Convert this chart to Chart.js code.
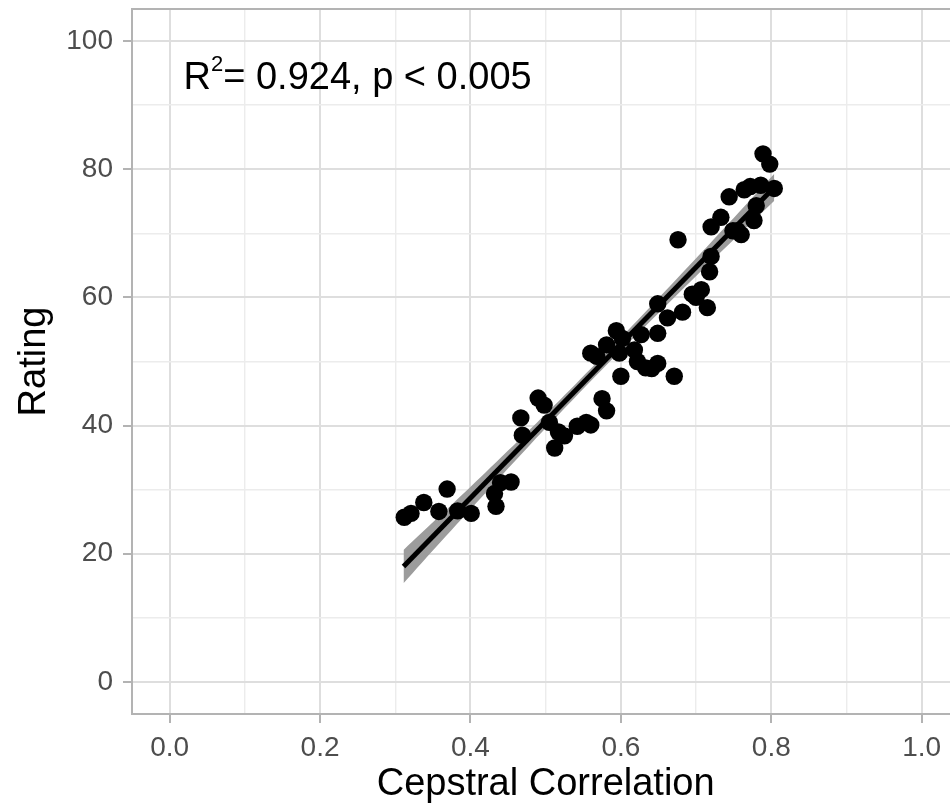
<!DOCTYPE html>
<html>
<head>
<meta charset="utf-8">
<script src="https://cdn.jsdelivr.net/npm/chart.js@4/dist/chart.umd.min.js"></script>
<style>
html,body{margin:0;padding:0;background:#fff;overflow:hidden}
#wrap{width:968px;height:807px}
#c{display:block}
</style>
</head>
<body>
<div id="wrap"><canvas id="c" width="968" height="807"></canvas></div>
<script>
// ---- data ----
const cepstral = [0.312,0.321,0.338,0.358,0.369,0.383,0.401,0.434,0.432,0.440,0.454,0.467,0.469,0.490,0.498,0.505,0.512,0.517,0.525,0.542,0.554,0.560,0.575,0.581,0.560,0.568,0.581,0.594,0.598,0.600,0.602,0.618,0.622,0.627,0.633,0.641,0.649,0.649,0.649,0.662,0.671,0.676,0.682,0.695,0.700,0.707,0.715,0.718,0.720,0.720,0.733,0.744,0.749,0.760,0.764,0.772,0.777,0.780,0.786,0.789,0.798,0.804,0.755];
const rating   = [25.7,26.3,28.0,26.6,30.1,26.7,26.3,27.4,29.4,31.1,31.2,41.2,38.5,44.3,43.2,40.5,36.5,39.0,38.4,39.9,40.5,40.1,44.2,42.3,51.3,50.8,52.6,54.8,51.3,47.7,53.6,51.8,50.0,54.2,49.0,48.9,49.7,54.4,59.0,56.8,47.7,69.0,57.7,60.5,60.0,61.2,58.4,64.0,66.4,71.0,72.5,75.7,70.4,69.8,76.8,77.3,72.0,74.3,77.5,82.4,80.8,77.0,70.4];
const fitX = [0.311, 0.804];
const fitY = [18.0, 77.2];
const bandX     = [0.311,0.36,0.42,0.48,0.54,0.60,0.66,0.72,0.78,0.804];
const bandUpper = [20.6,26.0,32.7,39.5,46.5,53.7,61.1,68.6,76.2,79.3];
const bandLower = [15.4,21.8,29.5,37.1,44.5,51.7,58.7,65.6,72.4,75.1];
const xMajor = [0, 0.2, 0.4, 0.6, 0.8, 1.0];
const xMinor = [0.1, 0.3, 0.5, 0.7, 0.9];
const yMajor = [0, 20, 40, 60, 80, 100];
const yMinor = [10, 30, 50, 70, 90];
const xTitle = 'Cepstral Correlation';
const yTitle = 'Rating';
const annotation = {main: 'R', sup: '2', rest: '= 0.924, p < 0.005', x: 0.0185, y: 92.5};

const FONT = "'Liberation Sans', Arial, sans-serif";
const MAJOR_GRID = '#dedede', MINOR_GRID = '#ececec', BORDER = '#b3b3b3';

const pts = cepstral.map((x, i) => ({x, y: rating[i]}));
const fit = fitX.map((x, i) => ({x, y: fitY[i]}));
const upper = bandX.map((x, i) => ({x, y: bandUpper[i]}));
const lower = bandX.map((x, i) => ({x, y: bandLower[i]}));

const panelPlugin = {
  id: 'panel',
  afterDatasetsDraw(chart) {
    const {ctx, chartArea: a} = chart;
    ctx.save();
    ctx.strokeStyle = BORDER;
    ctx.lineWidth = 2;
    ctx.strokeRect(a.left, a.top, a.right - a.left, a.bottom - a.top);
    ctx.restore();
  },
  afterDraw(chart) {
    const {ctx, scales} = chart;
    const px = scales.x.getPixelForValue(annotation.x);
    const py = scales.y.getPixelForValue(annotation.y);
    ctx.save();
    ctx.fillStyle = '#000';
    ctx.textBaseline = 'alphabetic';
    ctx.textAlign = 'left';
    ctx.font = '38px ' + FONT;
    ctx.fillText(annotation.main, px, py);
    let w = ctx.measureText(annotation.main).width;
    ctx.font = '22px ' + FONT;
    ctx.fillText(annotation.sup, px + w, py - 18);
    w += ctx.measureText(annotation.sup).width;
    ctx.font = '38px ' + FONT;
    ctx.fillText(annotation.rest, px + w, py);
    ctx.restore();
  }
};

const gridCfg = (major) => ({
  color: c => major.includes(c.tick && c.tick.value) ? MAJOR_GRID : MINOR_GRID,
  lineWidth: c => major.includes(c.tick && c.tick.value) ? 2 : 1.4,
  tickColor: c => major.includes(c.tick && c.tick.value) ? BORDER : 'rgba(0,0,0,0)',
  tickWidth: 2,
  tickLength: 9,
  drawTicks: true
});

const noPad = s => { s.paddingTop = 0; s.paddingBottom = 0; s.paddingLeft = 0; s.paddingRight = 0; };

new Chart(document.getElementById('c'), {
  type: 'scatter',
  data: {
    datasets: [
      {type: 'scatter', data: pts, pointRadius: 8.7, pointHoverRadius: 8.7, backgroundColor: '#000', borderWidth: 0},
      {type: 'line', data: fit, borderColor: '#000', borderWidth: 5, pointRadius: 0, fill: false, borderCapStyle: 'butt'},
      {type: 'line', data: lower, borderColor: 'rgba(0,0,0,0)', borderWidth: 0, pointRadius: 0, fill: false, tension: 0.3},
      {type: 'line', data: upper, borderColor: 'rgba(0,0,0,0)', borderWidth: 0, pointRadius: 0, fill: '-1', backgroundColor: '#9c9c9c', tension: 0.3}
    ]
  },
  options: {
    responsive: false,
    maintainAspectRatio: false,
    devicePixelRatio: 1,
    animation: false,
    events: [],
    layout: {padding: {top: 9, right: 0, left: 0, bottom: 0}},
    plugins: {legend: {display: false}, tooltip: {enabled: false}},
    scales: {
      x: {
        type: 'linear', min: -0.05, max: 1.05,
        afterBuildTicks: s => { s.ticks = xMajor.concat(xMinor).sort((a,b)=>a-b).map(v => ({value: v})); },
        afterFit: s => { s.height = 93; noPad(s); },
        ticks: {autoSkip: false, maxRotation: 0, padding: 8, color: '#4d4d4d', font: {family: FONT, size: 28},
                callback: v => xMajor.includes(v) ? v.toFixed(1) : ''},
        grid: gridCfg(xMajor),
        border: {display: false},
        title: {display: true, text: xTitle, color: '#000', font: {family: FONT, size: 38}, padding: {top: 0, bottom: 0}}
      },
      y: {
        type: 'linear', min: -5, max: 105,
        afterBuildTicks: s => { s.ticks = yMajor.concat(yMinor).sort((a,b)=>a-b).map(v => ({value: v})); },
        afterFit: s => { s.width = 132; noPad(s); },
        ticks: {autoSkip: false, padding: 10, color: '#4d4d4d', font: {family: FONT, size: 28},
                callback: v => yMajor.includes(v) ? String(v) : ''},
        grid: gridCfg(yMajor),
        border: {display: false},
        title: {display: true, text: yTitle, color: '#000', font: {family: FONT, size: 38}, padding: {top: 12, bottom: 0}}
      }
    }
  },
  plugins: [panelPlugin]
});
</script>
</body>
</html>
